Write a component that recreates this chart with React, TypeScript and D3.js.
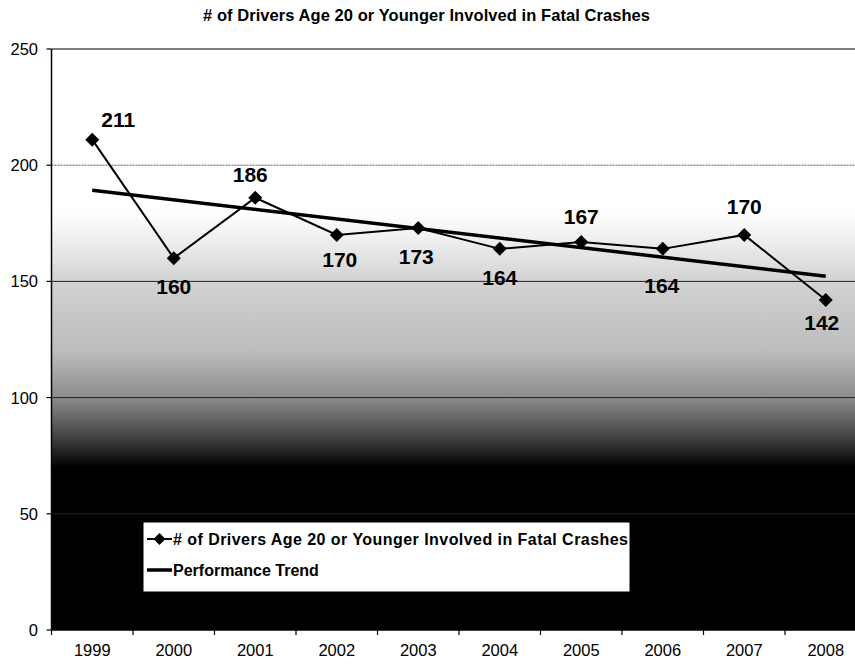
import React from "react";
import * as d3 from "d3";

const years = ["1999", "2000", "2001", "2002", "2003", "2004", "2005", "2006", "2007", "2008"];
const drivers = [211, 160, 186, 170, 173, 164, 167, 164, 170, 142];
const trendEnds = [189.2, 152.2];
const labelSide = ["above", "below", "above", "below", "below", "below", "above", "below", "above", "below"];
const yTicks = [0, 50, 100, 150, 200, 250];
const titleText = "# of Drivers Age 20 or Younger Involved in Fatal Crashes";
const legendLabels = ["# of Drivers Age 20 or Younger Involved in Fatal Crashes", "Performance Trend"];

// label nudges (dx, dy) relative to default placement
const labelNudge: [number, number][] = [
  [26, 5], [0, -2], [-5, 2], [3, -6], [-2, -2], [0, -2], [0, 0], [-1, 6], [0, -3], [-4, -8],
];

const W = 855;
const H = 664;
const left = 51.5;
const right = 866.5;
const top = 49;
const bottom = 630;
const font = "'Liberation Sans', Arial, Helvetica, sans-serif";

export default function App() {
  const x = d3.scaleBand<string>().domain(years).range([left, right]);
  const bw = x.bandwidth();
  const cx = (yr: string) => (x(yr) as number) + bw / 2;
  const y = d3.scaleLinear().domain([0, 250]).range([bottom, top]);

  const line = d3
    .line<number>()
    .x((_, i) => cx(years[i]))
    .y((d) => y(d));

  const trendLine = d3
    .line<number>()
    .x((_, i) => cx(i === 0 ? years[0] : years[years.length - 1]))
    .y((d) => y(d));

  const diamond = (px: number, py: number, r: number) =>
    `M${px},${py - r}L${px + r},${py}L${px},${py + r}L${px - r},${py}Z`;

  const boundaries = years.map((yr) => x(yr) as number).concat([right]);

  return (
    <svg
      width={W}
      height={H}
      style={{ position: "absolute", left: 0, top: 0, background: "#fff" }}
      fontFamily={font}
    >
      <defs>
        <linearGradient id="bg" gradientUnits="userSpaceOnUse" x1="0" y1={top} x2="0" y2={bottom}>
          <stop offset="0" stopColor="#ffffff" />
          <stop offset="0.28" stopColor="#ffffff" />
          <stop offset="0.33" stopColor="#eeeeee" />
          <stop offset="0.40" stopColor="#d2d2d2" />
          <stop offset="0.52" stopColor="#bcbcbc" />
          <stop offset="0.60" stopColor="#8c8c8c" />
          <stop offset="0.67" stopColor="#404040" />
          <stop offset="0.72" stopColor="#000000" />
          <stop offset="1" stopColor="#000000" />
        </linearGradient>
      </defs>

      <text x={203} y={21} fontSize={16.5} fontWeight="bold" fill="#000" textLength={447} lengthAdjust="spacing">
        {titleText}
      </text>

      <rect x={left} y={top} width={right - left} height={bottom - top} fill="url(#bg)" />

      <line x1={left} x2={right} y1={y(200)} y2={y(200)} stroke="#555" strokeWidth={1} strokeDasharray="2,1" />
      {yTicks
        .filter((t) => t !== 0 && t !== 250 && t !== 200)
        .map((t) => (
          <line key={t} x1={left} x2={right} y1={y(t)} y2={y(t)} stroke="#222" strokeWidth={1} />
        ))}
      <line x1={left} x2={right} y1={top} y2={top} stroke="#000" strokeWidth={1.2} />

      {/* axes */}
      <line x1={left} x2={left} y1={top} y2={bottom} stroke="#000" strokeWidth={1.5} />
      <line x1={left} x2={right} y1={bottom} y2={bottom} stroke="#000" strokeWidth={1.5} />
      {yTicks.map((t) => (
        <g key={t}>
          <line x1={left - 5} x2={left} y1={y(t)} y2={y(t)} stroke="#000" strokeWidth={1.2} />
          <text x={38} y={y(t) + 6} textAnchor="end" fontSize={16.5} fill="#000">
            {t}
          </text>
        </g>
      ))}
      {boundaries.map((b, i) => (
        <line key={i} x1={b} x2={b} y1={bottom} y2={bottom + 5} stroke="#000" strokeWidth={1.2} />
      ))}
      {years.map((yr) => (
        <text key={yr} x={cx(yr)} y={656} textAnchor="middle" fontSize={16.5} fill="#000">
          {yr}
        </text>
      ))}

      {/* trend */}
      <path d={trendLine(trendEnds) as string} fill="none" stroke="#000" strokeWidth={3.5} />

      {/* series */}
      <path d={line(drivers) as string} fill="none" stroke="#000" strokeWidth={2} />
      {drivers.map((v, i) => (
        <path key={i} d={diamond(cx(years[i]), y(v), 7)} fill="#000" />
      ))}
      {drivers.map((v, i) => {
        const above = labelSide[i] === "above";
        const [dx, dy] = labelNudge[i];
        return (
          <text
            key={i}
            x={cx(years[i]) + dx}
            y={y(v) + (above ? -18 : 38) + dy}
            textAnchor="middle"
            fontSize={21}
            fontWeight="bold"
            fill="#000"
          >
            {v}
          </text>
        );
      })}

      {/* legend */}
      <rect x={143} y={522} width={487} height={70} fill="#fff" stroke="#000" strokeWidth={1} />
      <line x1={147} x2={172} y1={539} y2={539} stroke="#000" strokeWidth={2} />
      <path d={diamond(159.5, 539, 6)} fill="#000" />
      <text x={173} y={545} fontSize={16} fontWeight="bold" fill="#000" textLength={455} lengthAdjust="spacing">
        {legendLabels[0]}
      </text>
      <line x1={147} x2={172} y1={570} y2={570} stroke="#000" strokeWidth={3.5} />
      <text x={173} y={576} fontSize={16} fontWeight="bold" fill="#000">
        {legendLabels[1]}
      </text>
    </svg>
  );
}
